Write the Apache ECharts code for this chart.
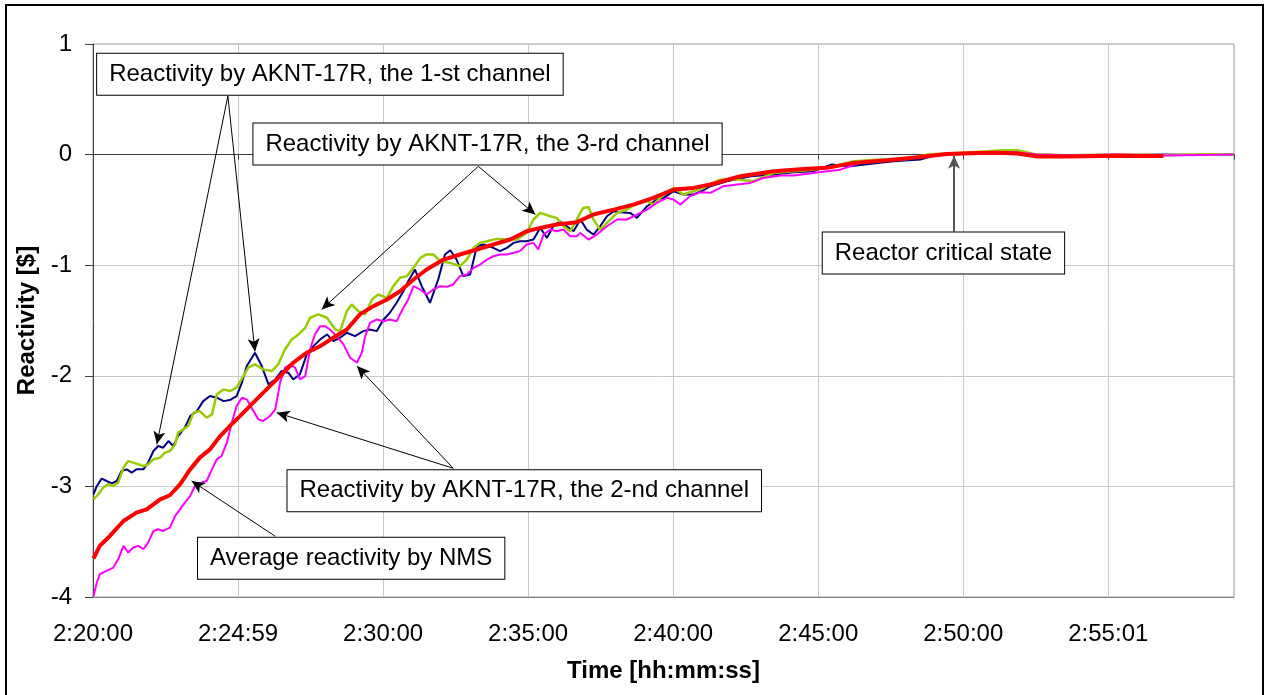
<!DOCTYPE html>
<html>
<head>
<meta charset="utf-8">
<title>Reactivity</title>
<script src="https://cdn.jsdelivr.net/npm/echarts@6/dist/echarts.min.js"></script>
<style>
  html, body { margin: 0; padding: 0; background: #fff; }
  #chart1 { width: 1268px; height: 695px; }
</style>
</head>
<body>
<div id="chart1"></div>
<script>
// time axis is seconds elapsed since 2:20:00, ticks every 5 minutes
var tickLabels = ['2:20:00', '2:24:59', '2:30:00', '2:35:00', '2:40:00', '2:45:00', '2:50:00', '2:55:01'];

// Average reactivity by NMS
var nmsTime = [1, 14, 35, 63, 90, 111, 139, 159, 180, 201,
    221, 242, 263, 283, 304, 332, 359, 387, 414, 442,
    470, 497, 525, 552, 580, 608, 635, 663, 690, 725,
    759, 794, 828, 863, 897, 925, 959, 1001, 1035, 1077,
    1118, 1159, 1201, 1242, 1277, 1339, 1408, 1477, 1518, 1573,
    1643, 1711, 1766, 1832, 1870, 1912, 1953, 2015, 2119, 2214];
var nmsValue = [-3.652, -3.538, -3.448, -3.313, -3.237, -3.207, -3.117, -3.080, -2.981, -2.846,
    -2.740, -2.665, -2.545, -2.454, -2.364, -2.240, -2.123, -2.003, -1.882, -1.791,
    -1.732, -1.656, -1.581, -1.445, -1.370, -1.310, -1.235, -1.129, -1.039, -0.949,
    -0.903, -0.858, -0.813, -0.768, -0.693, -0.663, -0.632, -0.611, -0.542, -0.497,
    -0.452, -0.391, -0.316, -0.301, -0.270, -0.196, -0.151, -0.129, -0.120, -0.075,
    -0.051, -0.021, 0.006, 0.015, 0.017, 0.010, -0.017, -0.017, -0.010, -0.012];

// AKNT-17R, 1-st channel
var ch1Time = [1, 8, 18, 28, 39, 49, 59, 70, 80, 90,
    104, 114, 125, 135, 145, 156, 166, 176, 190, 201,
    215, 228, 242, 256, 270, 283, 297, 308, 318, 335,
    349, 363, 377, 390, 404, 414, 428, 442, 456, 470,
    484, 497, 511, 525, 542, 559, 573, 587, 601, 614,
    628, 642, 652, 666, 680, 697, 714, 728, 739, 752,
    766, 780, 794, 808, 828, 842, 856, 870, 883, 897,
    911, 925, 939, 952, 966, 980, 994, 1008, 1021, 1035,
    1049, 1063, 1077, 1090, 1111, 1125, 1146, 1166, 1180, 1201,
    1221, 1242, 1263, 1277, 1311, 1360, 1408, 1449, 1490, 1528,
    1566, 1614, 1656, 1711, 1752, 1821, 1870, 1912, 1953, 2015,
    2119, 2214, 2290, 2359];
var ch1Value = [-3.071, -2.996, -2.930, -2.951, -2.972, -2.951, -2.861, -2.846, -2.875, -2.846,
    -2.846, -2.785, -2.680, -2.635, -2.650, -2.590, -2.635, -2.545, -2.469, -2.364,
    -2.319, -2.229, -2.183, -2.198, -2.229, -2.219, -2.183, -2.062, -1.912, -1.791,
    -1.912, -2.078, -2.033, -1.957, -1.972, -2.033, -1.987, -1.807, -1.732, -1.671,
    -1.626, -1.687, -1.656, -1.611, -1.641, -1.596, -1.581, -1.596, -1.491, -1.430,
    -1.340, -1.235, -1.145, -1.039, -1.190, -1.340, -1.129, -0.903, -0.865, -0.949,
    -1.099, -1.084, -0.828, -0.813, -0.843, -0.873, -0.843, -0.798, -0.783, -0.783,
    -0.768, -0.663, -0.753, -0.648, -0.603, -0.648, -0.693, -0.587, -0.678, -0.723,
    -0.648, -0.557, -0.512, -0.521, -0.527, -0.572, -0.467, -0.407, -0.391, -0.331,
    -0.361, -0.361, -0.322, -0.286, -0.241, -0.196, -0.181, -0.160, -0.151, -0.090,
    -0.106, -0.081, -0.060, -0.045, 0.006, 0.015, 0.030, 0.020, 0.000, -0.005,
    -0.005, 0.000, -0.004, 0.000];

// AKNT-17R, 2-nd channel
var ch2Time = [1, 8, 14, 28, 42, 52, 63, 73, 83, 94,
    104, 114, 125, 135, 145, 159, 170, 180, 190, 201,
    211, 221, 235, 246, 256, 266, 277, 287, 297, 308,
    318, 328, 342, 352, 366, 377, 387, 397, 408, 418,
    428, 439, 449, 459, 470, 480, 490, 504, 518, 532,
    546, 556, 563, 573, 587, 601, 614, 628, 642, 652,
    663, 677, 690, 704, 718, 732, 745, 759, 773, 787,
    801, 815, 828, 842, 856, 870, 883, 897, 911, 921,
    932, 946, 959, 973, 987, 1001, 1008, 1025, 1042, 1063,
    1084, 1104, 1125, 1146, 1166, 1187, 1201, 1215, 1235, 1256,
    1277, 1304, 1332, 1360, 1387, 1421, 1449, 1490, 1518, 1546,
    1587, 1628, 1684, 1739, 1794, 1850, 1912, 1953, 2015, 2119,
    2214, 2290, 2359];
var ch2Value = [-3.990, -3.869, -3.794, -3.764, -3.734, -3.659, -3.538, -3.598, -3.553, -3.538,
    -3.568, -3.508, -3.403, -3.388, -3.403, -3.373, -3.267, -3.207, -3.147, -3.087,
    -2.996, -2.972, -2.951, -2.846, -2.755, -2.725, -2.604, -2.424, -2.274, -2.198,
    -2.213, -2.289, -2.394, -2.409, -2.364, -2.304, -2.062, -1.927, -1.897, -1.927,
    -2.033, -2.003, -1.762, -1.626, -1.551, -1.551, -1.581, -1.641, -1.716, -1.837,
    -1.882, -1.791, -1.641, -1.521, -1.491, -1.506, -1.491, -1.506, -1.385, -1.310,
    -1.190, -1.220, -1.265, -1.220, -1.190, -1.195, -1.174, -1.099, -1.084, -1.024,
    -0.994, -0.949, -0.919, -0.903, -0.903, -0.888, -0.873, -0.813, -0.798, -0.858,
    -0.723, -0.678, -0.693, -0.678, -0.738, -0.738, -0.708, -0.768, -0.723, -0.648,
    -0.587, -0.587, -0.542, -0.497, -0.437, -0.391, -0.407, -0.452, -0.376, -0.340,
    -0.346, -0.286, -0.271, -0.256, -0.211, -0.190, -0.190, -0.166, -0.151, -0.136,
    -0.075, -0.060, -0.039, -0.009, 0.015, 0.020, 0.020, 0.000, -0.005, 0.000,
    -0.008, -0.003, 0.000];

// AKNT-17R, 3-rd channel
var ch3Time = [1, 11, 21, 32, 42, 52, 63, 73, 83, 94,
    104, 114, 125, 139, 149, 159, 170, 176, 187, 197,
    208, 221, 235, 246, 256, 270, 283, 297, 311, 321,
    335, 352, 370, 383, 397, 411, 425, 439, 449, 466,
    484, 501, 511, 525, 535, 549, 563, 577, 590, 608,
    621, 635, 649, 663, 677, 690, 704, 718, 739, 759,
    773, 787, 801, 815, 835, 856, 877, 897, 911, 925,
    946, 959, 973, 987, 997, 1008, 1014, 1025, 1035, 1049,
    1070, 1084, 1104, 1125, 1146, 1159, 1180, 1201, 1221, 1242,
    1263, 1297, 1332, 1366, 1408, 1449, 1490, 1532, 1573, 1628,
    1684, 1725, 1787, 1850, 1880, 1912, 1953, 2015, 2119, 2214,
    2290, 2359];
var ch3Value = [-3.117, -3.071, -3.011, -2.981, -2.996, -2.966, -2.830, -2.771, -2.785, -2.800,
    -2.816, -2.800, -2.755, -2.740, -2.695, -2.680, -2.620, -2.514, -2.484, -2.454,
    -2.333, -2.319, -2.379, -2.349, -2.168, -2.123, -2.138, -2.108, -2.003, -1.927,
    -1.897, -1.942, -1.957, -1.897, -1.762, -1.671, -1.626, -1.566, -1.475, -1.445,
    -1.475, -1.581, -1.596, -1.415, -1.355, -1.415, -1.445, -1.310, -1.265, -1.295,
    -1.190, -1.114, -1.099, -1.024, -0.934, -0.903, -0.903, -0.964, -0.979, -1.009,
    -0.949, -0.843, -0.798, -0.783, -0.762, -0.768, -0.768, -0.708, -0.587, -0.527,
    -0.557, -0.572, -0.648, -0.693, -0.617, -0.527, -0.482, -0.473, -0.587, -0.678,
    -0.587, -0.527, -0.497, -0.437, -0.421, -0.452, -0.361, -0.301, -0.361, -0.331,
    -0.301, -0.226, -0.226, -0.241, -0.166, -0.151, -0.136, -0.106, -0.060, -0.045,
    -0.039, 0.000, 0.015, 0.030, 0.040, 0.040, 0.000, -0.005, 0.000, -0.005,
    0.003, 0.000];

// callout boxes: text and centre [seconds, reactivity]
var noteText = ['Reactivity by AKNT-17R, the 1-st channel', 'Reactivity by AKNT-17R, the 3-rd channel',
    'Reactivity by AKNT-17R, the 2-nd channel', 'Average reactivity by NMS', 'Reactor critical state'];
var noteAt = [[490, 0.727], [816, 0.095], [892, -3.040], [534, -3.650], [1759, -0.890]];
// arrows: from (box edge) -> to (curve)
var arrowFrom = [[279, 0.530], [279, 0.530], [797, -0.106], [797, -0.106], [745, -2.836], [745, -2.836], [377, -3.451]];
var arrowTo = [[132, -2.620], [335, -1.780], [473, -1.400], [915, -0.542], [380, -2.333], [546, -1.912], [204, -2.951]];
var criticalFrom = [1781, -0.696];
var criticalTo = [1781, -0.010];

function pairs(t, v) {
    var out = [];
    for (var i = 0; i < t.length; i++) {
        out.push([t[i], v[i]]);
    }
    return out;
}

var font = 'Liberation Sans, Arial, sans-serif';
var myChart1 = echarts.init(document.getElementById('chart1'));

var arrowData = [];
for (var i = 0; i < arrowFrom.length; i++) {
    arrowData.push([{ coord: arrowFrom[i] }, { coord: arrowTo[i] }]);
}
arrowData.push([
    { coord: criticalFrom, lineStyle: { color: '#555', width: 2 } },
    { coord: criticalTo }
]);

var noteData = [];
for (var i = 0; i < noteText.length; i++) {
    noteData.push({ name: noteText[i], coord: noteAt[i] });
}

var option = {
    backgroundColor: '#fff',
    animation: false,
    grid: {
        left: 93, right: 34, top: 44, bottom: 98,
        show: true, borderColor: '#a0a0a0', borderWidth: 1
    },
    xAxis: [
        {
            type: 'value',
            min: 0, max: 2360, interval: 300,
            name: 'Time [hh:mm:ss]',
            nameLocation: 'middle',
            nameGap: 62,
            nameTextStyle: { fontFamily: font, fontSize: 24, fontWeight: 'bold', color: '#000' },
            axisLine: { show: true, onZero: false, lineStyle: { color: '#808080' } },
            axisTick: { show: false },
            axisLabel: {
                fontFamily: font, fontSize: 24, color: '#000', margin: 25,
                formatter: function (v) {
                    var k = Math.round(v / 300);
                    return tickLabels[k] || '';
                }
            },
            splitLine: { show: true, lineStyle: { color: '#c8c8c8', width: 1 } }
        },
        {
            // the category axis crosses at zero, drawn as a dark line with ticks
            type: 'value',
            min: 0, max: 2360, interval: 300,
            position: 'bottom',
            axisLine: { show: true, onZero: true, onZeroAxisIndex: 0, lineStyle: { color: '#404040', width: 1 } },
            axisTick: { show: true, length: 5, lineStyle: { color: '#404040' } },
            axisLabel: { show: false },
            splitLine: { show: false }
        }
    ],
    yAxis: {
        type: 'value',
        min: -4, max: 1, interval: 1,
        name: 'Reactivity [$]',
        nameLocation: 'middle',
        nameGap: 41,
        nameTextStyle: { fontFamily: font, fontSize: 24, fontWeight: 'bold', color: '#000' },
        axisLine: { show: true, lineStyle: { color: '#404040' } },
        axisTick: { show: true, length: 8, lineStyle: { color: '#404040' } },
        axisLabel: { fontFamily: font, fontSize: 24, color: '#000', margin: 21 },
        splitLine: { show: true, lineStyle: { color: '#c8c8c8', width: 1 } }
    },
    series: [
        {
            name: 'AKNT-17R ch1', type: 'line', showSymbol: false, z: 3,
            lineStyle: { color: '#000080', width: 2 },
            itemStyle: { color: '#000080' },
            data: pairs(ch1Time, ch1Value)
        },
        {
            name: 'AKNT-17R ch3', type: 'line', showSymbol: false, z: 3,
            lineStyle: { color: '#99cc00', width: 2.5 },
            itemStyle: { color: '#99cc00' },
            data: pairs(ch3Time, ch3Value)
        },
        {
            name: 'AKNT-17R ch2', type: 'line', showSymbol: false, z: 3,
            lineStyle: { color: '#ff00ff', width: 2 },
            itemStyle: { color: '#ff00ff' },
            data: pairs(ch2Time, ch2Value)
        },
        {
            name: 'NMS', type: 'line', showSymbol: false, z: 4,
            lineStyle: { color: '#ff0000', width: 4 },
            itemStyle: { color: '#ff0000' },
            data: pairs(nmsTime, nmsValue)
        },
        {
            name: 'notes', type: 'scatter', symbolSize: 0, z: 6, silent: true,
            data: [],
            markLine: {
                silent: true,
                symbol: ['none', 'arrow'],
                symbolSize: [9, 13],
                label: { show: false },
                lineStyle: { color: '#000', width: 1, type: 'solid' },
                data: arrowData
            },
            markPoint: {
                silent: true,
                symbol: 'rect',
                symbolSize: 0,
                label: {
                    show: true,
                    position: 'inside',
                    formatter: '{b}',
                    fontFamily: font,
                    fontSize: 24,
                    color: '#000',
                    backgroundColor: '#fff',
                    borderColor: '#000',
                    borderWidth: 1,
                    padding: [9, 12, 8, 12]
                },
                data: noteData
            }
        }
    ],
    graphic: [
        {
            type: 'rect',
            shape: { x: 6, y: 5, width: 1257, height: 695 },
            style: { fill: 'none', stroke: '#000', lineWidth: 2 },
            silent: true
        }
    ]
};
myChart1.setOption(option);
</script>
</body>
</html>
